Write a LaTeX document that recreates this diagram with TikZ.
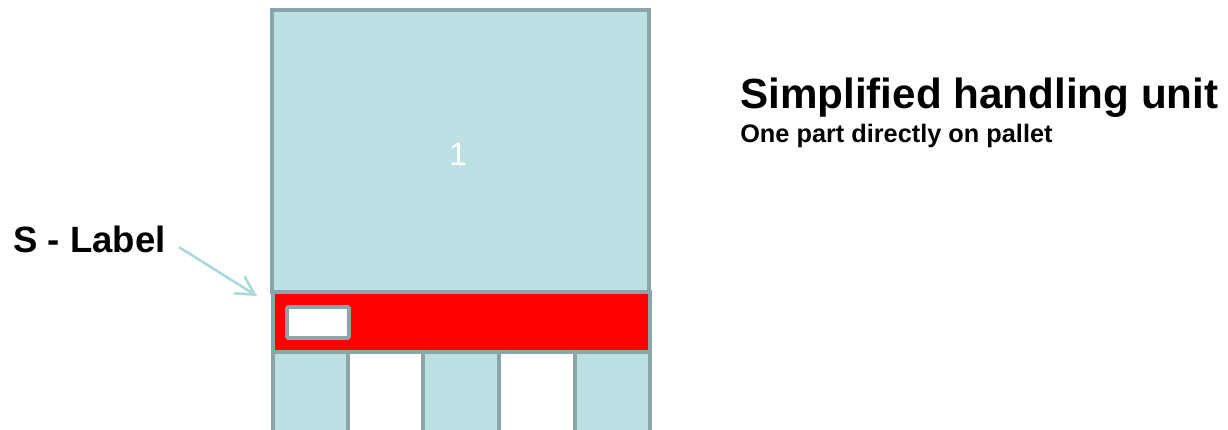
\documentclass[tikz,border=0pt]{standalone}
\usepackage{fontspec}
\setmainfont{Liberation Sans}
\usetikzlibrary{arrows.meta,positioning}

\definecolor{partfill}{HTML}{BCE0E3}
\definecolor{partline}{HTML}{8BA6A8}
\definecolor{arrowblue}{HTML}{A9D9DD}

\begin{document}
\begin{tikzpicture}[x=0.025cm, y=-0.025cm,
    part/.style={draw=partline, fill=partfill, line width=2.8pt},
    labelbar/.style={draw=partline, fill=red, line width=2.8pt},
    title/.style={font=\bfseries\fontsize{30}{34}\selectfont, anchor=base west, inner sep=0pt},
    subtitle/.style={font=\bfseries\fontsize{18}{21}\selectfont, anchor=base west, inner sep=0pt}]
  \useasboundingbox (0,0) rectangle (1228,429);
  \clip (0,0) rectangle (1228,429);
  % part on the pallet
  \draw[part] (272,10) rectangle (649,292);
  \node (num) [anchor=base, text=white, font=\fontsize{23}{26}\selectfont, inner sep=0pt] at (458,165) {1};
  % pallet deck with label
  \draw[labelbar] (273,292) rectangle (650,352);
  \draw[draw=partline, fill=white, line width=2.8pt, rounded corners=1pt] (287,307) rectangle (349,338);
  % pallet feet
  \draw[part] (273,352) rectangle (348,440);
  \draw[part] (423,352) rectangle (499,440);
  \draw[part] (575,352) rectangle (650,440);
  % texts
  \node (slabel) [anchor=base west, inner sep=0pt, font=\bfseries\fontsize{26}{30}\selectfont] at (13,252) {S - Label};
  \coordinate (tip) at (257,296);
  \draw[arrowblue, line width=1.8pt, shorten <=11pt, -{Straight Barb[length=4.6mm, width=5mm]}] (slabel.east) -- (tip);
  \node (head) [title] at (740,108) {Simplified handling unit};
  \node (sub) [subtitle] at (740,142) {One part directly on pallet};
\end{tikzpicture}
\end{document}
